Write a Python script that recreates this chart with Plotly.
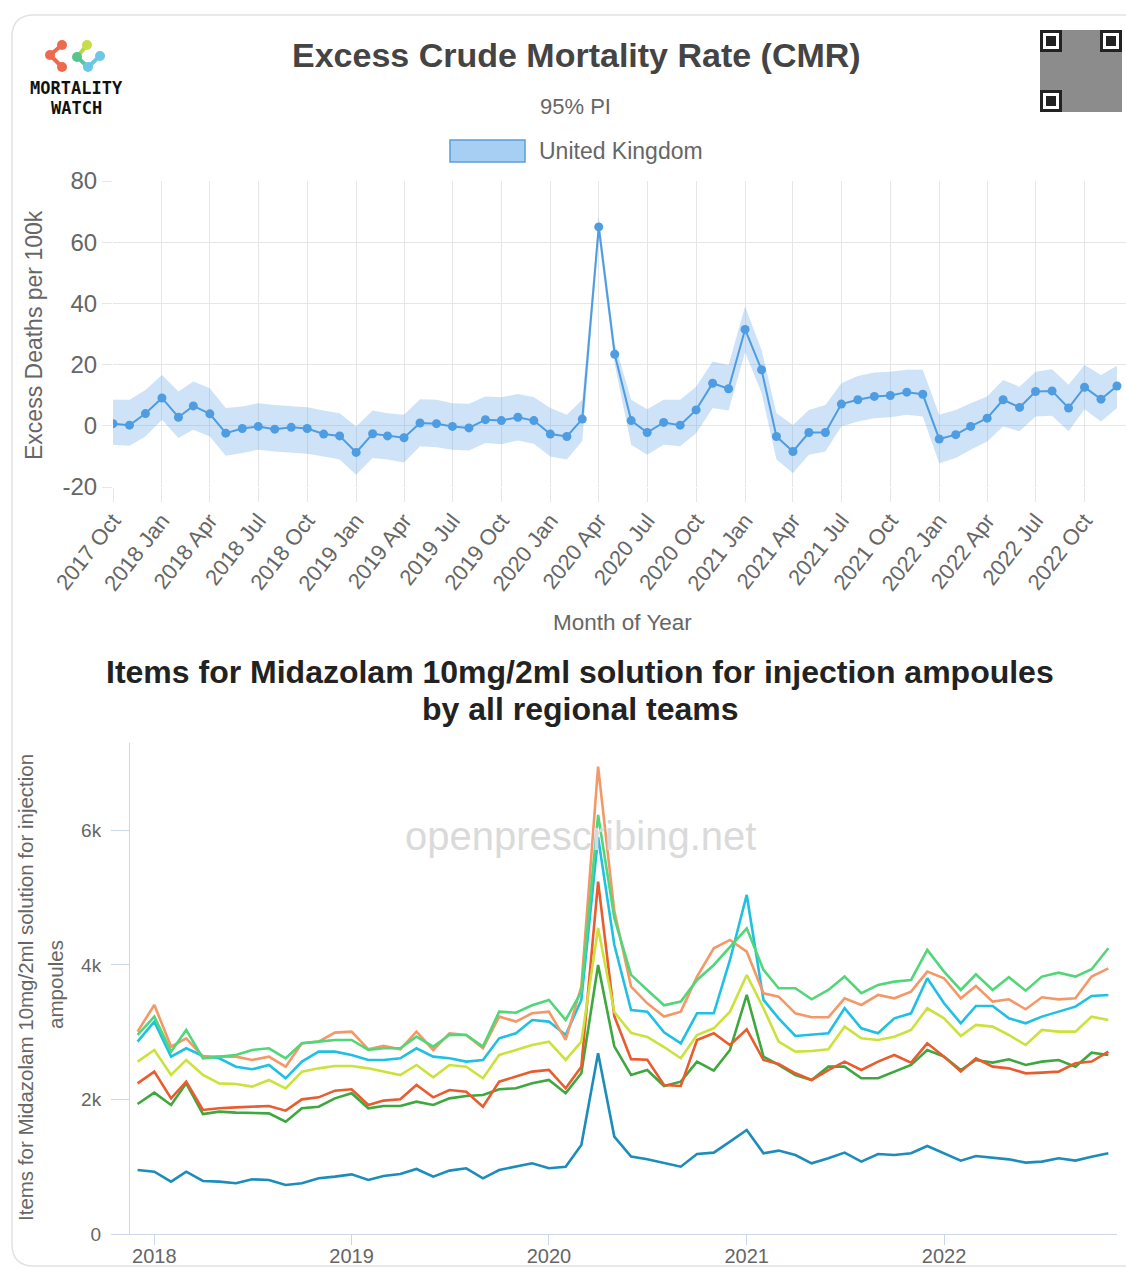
import pandas as pd
import plotly.graph_objects as go

W, H = 1126, 1268

# ---------------- data: top chart (excess CMR, UK) ----------------
top_start = "2017-10-01"
cmr = [0.7, 0.2, 4.0, 9.1, 2.8, 6.5, 3.9, -2.4, -0.9, -0.2, -1.1, -0.5, -0.9, -2.7, -3.3,
       -8.7, -2.6, -3.3, -3.9, 0.9, 0.7, -0.2, -0.7, 2.0, 1.7, 2.8, 1.7, -2.7, -3.5, 2.2,
       65.0, 23.4, 1.7, -2.2, 1.1, 0.2, 5.2, 13.9, 12.1, 31.5, 18.3, -3.5, -8.4, -2.2, -2.2,
       7.1, 8.5, 9.6, 9.9, 11.0, 10.3, -4.3, -2.9, -0.2, 2.5, 8.5, 6.0, 11.2, 11.4, 5.8,
       12.6, 8.7, 13.0]
cmr_upper = [8.5, 8.5, 11.7, 16.6, 11.2, 14.5, 12.3, 5.8, 6.3, 7.4, 6.8, 6.5, 6.1, 5.0, 4.1,
             -0.2, 5.0, 4.1, 3.6, 8.7, 8.5, 7.4, 7.2, 9.6, 9.3, 10.4, 9.3, 5.8, 3.6, 8.5,
             68.5, 27.0, 8.5, 5.4, 8.5, 8.5, 12.8, 21.0, 19.9, 39.0, 24.8, 4.1, 0.3, 5.2, 6.8,
             13.9, 16.3, 17.4, 17.7, 18.3, 18.3, 3.6, 5.2, 7.4, 9.6, 15.0, 12.8, 17.7, 18.5, 13.4,
             19.9, 16.6, 19.6]
cmr_lower = [-6.2, -6.5, -3.5, 2.0, -4.0, -1.3, -3.5, -9.8, -8.9, -7.8, -8.4, -8.7, -9.1, -10.0, -11.0,
             -16.0, -10.5, -11.0, -12.0, -6.7, -7.0, -7.8, -8.1, -5.6, -6.0, -4.8, -5.9, -10.0, -11.0, -5.0,
             61.5, 20.0, -6.2, -9.5, -6.2, -6.7, -2.4, 5.8, 5.0, 24.0, 10.7, -11.0, -15.4, -9.5, -8.4,
             -0.2, 1.4, 2.5, 2.8, 3.6, 3.0, -12.2, -10.5, -7.8, -5.1, -0.2, -1.8, 3.0, 3.3, -1.8,
             5.4, 1.4, 5.8]
top_tick_labels = ["2017 Oct", "2018 Jan", "2018 Apr", "2018 Jul", "2018 Oct", "2019 Jan",
                   "2019 Apr", "2019 Jul", "2019 Oct", "2020 Jan", "2020 Apr", "2020 Jul",
                   "2020 Oct", "2021 Jan", "2021 Apr", "2021 Jul", "2021 Oct", "2022 Jan",
                   "2022 Apr", "2022 Jul", "2022 Oct"]
top_yticks = [-20, 0, 20, 40, 60, 80]
top_ytext = ["-20", "0", "20", "40", "60", "80"]

# ---------------- data: bottom chart (Midazolam items by region) ----------------
bottom_start = "2017-12-01"
teal = [952, 927, 778, 927, 788, 778, 754, 813, 803, 729, 754, 828, 853, 887, 803, 863, 892, 967,
        853, 942, 977, 828, 952, 1001, 1051, 977, 1001, 1324, 2687, 1448, 1150, 1110, 1051, 1001,
        1190, 1210, 1373, 1547, 1200, 1240, 1175, 1051, 1125, 1210, 1076, 1190, 1175, 1200, 1309,
        1200, 1091, 1160, 1140, 1110, 1061, 1076, 1125, 1091, 1150, 1200]
green = [1933, 2102, 1918, 2240, 1784, 1819, 1804, 1794, 1794, 1670, 1869, 1893, 2017, 2092, 1869,
         1903, 1903, 1968, 1918, 2017, 2052, 2067, 2151, 2166, 2240, 2290, 2092, 2389, 4000, 2790,
         2364, 2439, 2201, 2265, 2563, 2429, 2736, 3554, 2637, 2513, 2364, 2290, 2488, 2488, 2315,
         2315, 2414, 2513, 2736, 2637, 2438, 2587, 2548, 2597, 2513, 2563, 2587, 2488, 2696, 2661]
red = [2240, 2414, 2017, 2265, 1844, 1869, 1883, 1893, 1903, 1834, 2002, 2032, 2131, 2151, 1918,
       1983, 2002, 2216, 2032, 2141, 2116, 1893, 2265, 2340, 2414, 2439, 2166, 2488, 5240, 3240,
       2600, 2590, 2216, 2201, 2885, 2984, 2810, 3043, 2587, 2528, 2389, 2290, 2438, 2563, 2438,
       2563, 2662, 2548, 2835, 2637, 2414, 2612, 2488, 2463, 2389, 2399, 2414, 2538, 2563, 2711]
yellow_green = [2563, 2736, 2364, 2588, 2364, 2240, 2231, 2191, 2290, 2166, 2414, 2463, 2498, 2498,
                2463, 2414, 2364, 2513, 2330, 2513, 2488, 2315, 2662, 2736, 2810, 2860, 2588, 2860,
                4550, 3300, 2990, 2930, 2780, 2612, 2959, 3058, 3306, 3851, 3356, 2860, 2711, 2721,
                2746, 3083, 2910, 2885, 2934, 3034, 3356, 3207, 2944, 3108, 3083, 2959, 2810, 3034,
                3009, 3009, 3232, 3182]
cyan = [2860, 3158, 2637, 2761, 2647, 2612, 2488, 2449, 2513, 2315, 2563, 2711, 2711, 2662, 2588,
        2588, 2612, 2761, 2637, 2612, 2563, 2588, 2910, 2984, 3182, 3158, 2959, 3480, 5900, 4300,
        3331, 3306, 3000, 2835, 3281, 3281, 4074, 5041, 3480, 3207, 2944, 2959, 2984, 3356, 3058,
        2984, 3207, 3281, 3802, 3430, 3133, 3390, 3390, 3207, 3133, 3232, 3306, 3380, 3539, 3554]
orange = [3009, 3405, 2786, 2910, 2637, 2637, 2637, 2588, 2637, 2488, 2835, 2860, 2994, 3009, 2746,
          2796, 2746, 3009, 2736, 2984, 2959, 2761, 3232, 3158, 3282, 3306, 2885, 3678, 6950, 4800,
          3678, 3430, 3232, 3306, 3827, 4248, 4372, 4198, 3579, 3529, 3281, 3222, 3222, 3504, 3405,
          3554, 3504, 3603, 3901, 3802, 3504, 3688, 3455, 3489, 3341, 3519, 3489, 3504, 3827, 3950]
light_green = [2959, 3232, 2711, 3034, 2612, 2637, 2662, 2736, 2761, 2612, 2835, 2860, 2885, 2885,
               2736, 2761, 2761, 2934, 2786, 2959, 2959, 2786, 3306, 3290, 3400, 3480, 3182, 3604,
               6231, 4700, 3852, 3628, 3400, 3455, 3777, 4000, 4273, 4545, 3926, 3653, 3653, 3489,
               3628, 3827, 3579, 3703, 3752, 3777, 4223, 3901, 3628, 3861, 3628, 3817, 3618, 3827,
               3886, 3827, 3936, 4248]
bottom_years = ["2018", "2019", "2020", "2021", "2022"]
bottom_yticks = [0, 2000, 4000, 6000]
bottom_ytext = ["0", "2k", "4k", "6k"]

months_top = pd.date_range(top_start, periods=len(cmr), freq="MS")
months_bot = pd.date_range(bottom_start, periods=len(teal), freq="MS")

FONT = "Liberation Sans, Arial, Helvetica, sans-serif"
GRAY = "#666666"


def px(x):
    return x / W


def py(y):
    return 1 - y / H


fig = go.Figure()

# ---- top chart traces ----
blue = "rgb(78,156,226)"
fig.add_trace(go.Scatter(x=months_top, y=cmr_upper, mode="lines", line=dict(width=0),
                         hoverinfo="skip", showlegend=False, xaxis="x", yaxis="y"))
fig.add_trace(go.Scatter(x=months_top, y=cmr_lower, mode="lines", line=dict(width=0),
                         fill="tonexty", fillcolor="rgba(78,156,226,0.28)",
                         hoverinfo="skip", showlegend=False, xaxis="x", yaxis="y"))
fig.add_trace(go.Scatter(x=months_top, y=cmr, mode="lines+markers", name="United Kingdom",
                         line=dict(color=blue, width=2), marker=dict(color=blue, size=9),
                         showlegend=False, xaxis="x", yaxis="y"))

# ---- bottom chart traces ----
series = [
    ("teal", teal, "rgb(28,140,186)"),
    ("green", green, "rgb(62,168,62)"),
    ("red", red, "rgb(232,92,46)"),
    ("yellow_green", yellow_green, "rgb(204,226,60)"),
    ("cyan", cyan, "rgb(32,192,226)"),
    ("orange", orange, "rgb(244,152,104)"),
    ("light_green", light_green, "rgb(82,214,122)"),
]
for name, vals, col in series:
    fig.add_trace(go.Scatter(x=months_bot, y=vals, mode="lines", name=name,
                             line=dict(color=col, width=2.6), showlegend=False,
                             xaxis="x2", yaxis="y2"))

top_ticks = list(months_top[::3][:len(top_tick_labels)])
bottom_tickvals = [pd.Timestamp(f"{y}-01-01") for y in bottom_years]

fig.update_layout(
    template="none",
    width=W, height=H, margin=dict(l=0, r=0, t=0, b=0, pad=0, autoexpand=False),
    paper_bgcolor="white", plot_bgcolor="white",
    font=dict(family=FONT, color=GRAY),
    xaxis=dict(domain=[px(113), 1.0], anchor="y", range=["2017-10-01", "2022-12-18"], automargin=False,
               tickmode="array", tickvals=top_ticks, ticktext=top_tick_labels,
               tickangle=-52, tickfont=dict(size=22, color=GRAY),
               showgrid=True, gridcolor="#e6e6e6", gridwidth=1,
               ticks="outside", ticklen=14, tickcolor="#e6e6e6", ticklabelstandoff=-3,
               showline=False, zeroline=False),
    yaxis=dict(domain=[py(487), py(181)], anchor="x", range=[-20, 80], automargin=False,
               tickmode="array", tickvals=top_yticks, ticktext=top_ytext,
               tickfont=dict(size=24, color=GRAY), showgrid=True, gridcolor="#e6e6e6",
               ticks="outside", ticklen=10, tickcolor="#e6e6e6",
               zeroline=False, showline=False),
    xaxis2=dict(domain=[px(130), px(1117)], anchor="y2", range=["2017-11-17", "2022-11-17"],
                automargin=False,
                tickmode="array", tickvals=bottom_tickvals, ticktext=bottom_years,
                tickfont=dict(size=20, color=GRAY), showgrid=False,
                ticks="outside", ticklen=10, tickcolor="#ccd6eb", ticklabelstandoff=-6,
                showline=True, linecolor="#ccd6eb", linewidth=1, zeroline=False),
    yaxis2=dict(domain=[py(1234), py(743)], anchor="x2", range=[0, 7300], automargin=False,
                tickmode="array", tickvals=bottom_yticks, ticktext=bottom_ytext,
                tickfont=dict(size=19, color=GRAY), showgrid=False,
                ticks="outside", ticklen=18, tickcolor="#ccd6eb", ticklabelstandoff=6,
                showline=True, linecolor="#ccd6eb", linewidth=1, zeroline=False),
)

ann = []


def text(x, y, s, size, color=GRAY, bold=False, angle=0, xanchor="center", family=FONT):
    ann.append(dict(x=px(x), y=py(y), xref="paper", yref="paper", text=(f"<b>{s}</b>" if bold else s),
                    showarrow=False, xanchor=xanchor, yanchor="middle", textangle=angle,
                    font=dict(size=size, color=color, family=family)))


text(576, 55, "Excess Crude Mortality Rate (CMR)", 34, "#444444", bold=True)
text(575, 106, "95% PI", 22, GRAY)
text(537, 151, "United Kingdom", 23, GRAY, xanchor="left")
text(34, 335, "Excess Deaths per 100k", 23, GRAY, angle=-90)
text(622, 622, "Month of Year", 22.5, GRAY)
text(580, 672, "Items for Midazolam 10mg/2ml solution for injection ampoules", 32, "#222222", bold=True)
text(580, 709, "by all regional teams", 32, "#222222", bold=True)
text(25, 988, "Items for Midazolam 10mg/2ml solution for injection", 20.5, GRAY, angle=-90)
text(55, 985, "ampoules", 20.5, GRAY, angle=-90)
text(580, 836, "openprescribing.net", 40, "#dadada")
text(77, 88, "MORTALITY", 17, "#111111", bold=True, family="DejaVu Sans Mono, monospace")
text(77, 108, "WATCH", 17, "#111111", bold=True, family="DejaVu Sans Mono, monospace")

shapes = []
# card border
x0, yt, yb, r = 12, 15, 1266, 22
path = (f"M {px(1130)},{py(yt)} L {px(x0 + r)},{py(yt)} Q {px(x0)},{py(yt)} {px(x0)},{py(yt + r)} "
        f"L {px(x0)},{py(yb - r)} Q {px(x0)},{py(yb)} {px(x0 + r)},{py(yb)} L {px(1130)},{py(yb)}")
shapes.append(dict(type="path", path=path, xref="paper", yref="paper",
                   line=dict(color="#e2e2e2", width=1.5)))
# legend swatch
shapes.append(dict(type="rect", xref="paper", yref="paper", x0=px(450), x1=px(525), y0=py(162), y1=py(140),
                   fillcolor="#a6cff3", line=dict(color="#5a9fe0", width=1.5)))
# logo icon
logo_links = [((50, 55), (62, 45), "#ee6a4f"), ((50, 55), (62, 67), "#ee6a4f"),
              ((77, 57), (87, 45), "#b9d64a"), ((77, 57), (88, 67), "#5cc3a0"),
              ((88, 67), (100, 56), "#6cc6e6")]
for (ax, ay), (bx, by), c in logo_links:
    shapes.append(dict(type="line", xref="paper", yref="paper", x0=px(ax), y0=py(ay), x1=px(bx), y1=py(by),
                       line=dict(color=c, width=4)))
logo_dots = [(62, 45, "#ee6a4f"), (50, 55, "#ee6a4f"), (62, 67, "#ee6a4f"), (87, 45, "#c9dc4a"),
             (77, 57, "#58c48e"), (88, 67, "#6cc6e6"), (100, 56, "#6cc6e6")]
for cx, cy, c in logo_dots:
    shapes.append(dict(type="circle", xref="paper", yref="paper", x0=px(cx - 5), x1=px(cx + 5),
                       y0=py(cy + 5), y1=py(cy - 5), fillcolor=c, line=dict(width=0)))
# QR code placeholder
qx0, qy0, qs = 1040, 30, 82
shapes.append(dict(type="rect", xref="paper", yref="paper", x0=px(qx0), x1=px(qx0 + qs),
                   y0=py(qy0 + qs), y1=py(qy0), fillcolor="#8c8c8c", line=dict(width=0)))
for fx, fy in [(qx0, qy0), (qx0 + qs - 22, qy0), (qx0, qy0 + qs - 22)]:
    shapes.append(dict(type="rect", xref="paper", yref="paper", x0=px(fx), x1=px(fx + 22),
                       y0=py(fy + 22), y1=py(fy), fillcolor="#222222", line=dict(width=0)))
    shapes.append(dict(type="rect", xref="paper", yref="paper", x0=px(fx + 3), x1=px(fx + 19),
                       y0=py(fy + 19), y1=py(fy + 3), fillcolor="#ffffff", line=dict(width=0)))
    shapes.append(dict(type="rect", xref="paper", yref="paper", x0=px(fx + 6), x1=px(fx + 16),
                       y0=py(fy + 16), y1=py(fy + 6), fillcolor="#222222", line=dict(width=0)))

fig.update_layout(annotations=ann, shapes=shapes)
fig.write_html("out.html", config={"displayModeBar": False},
               post_script="document.body.style.margin='0px';document.body.style.padding='0px';"
                           "document.body.style.overflow='hidden';")
